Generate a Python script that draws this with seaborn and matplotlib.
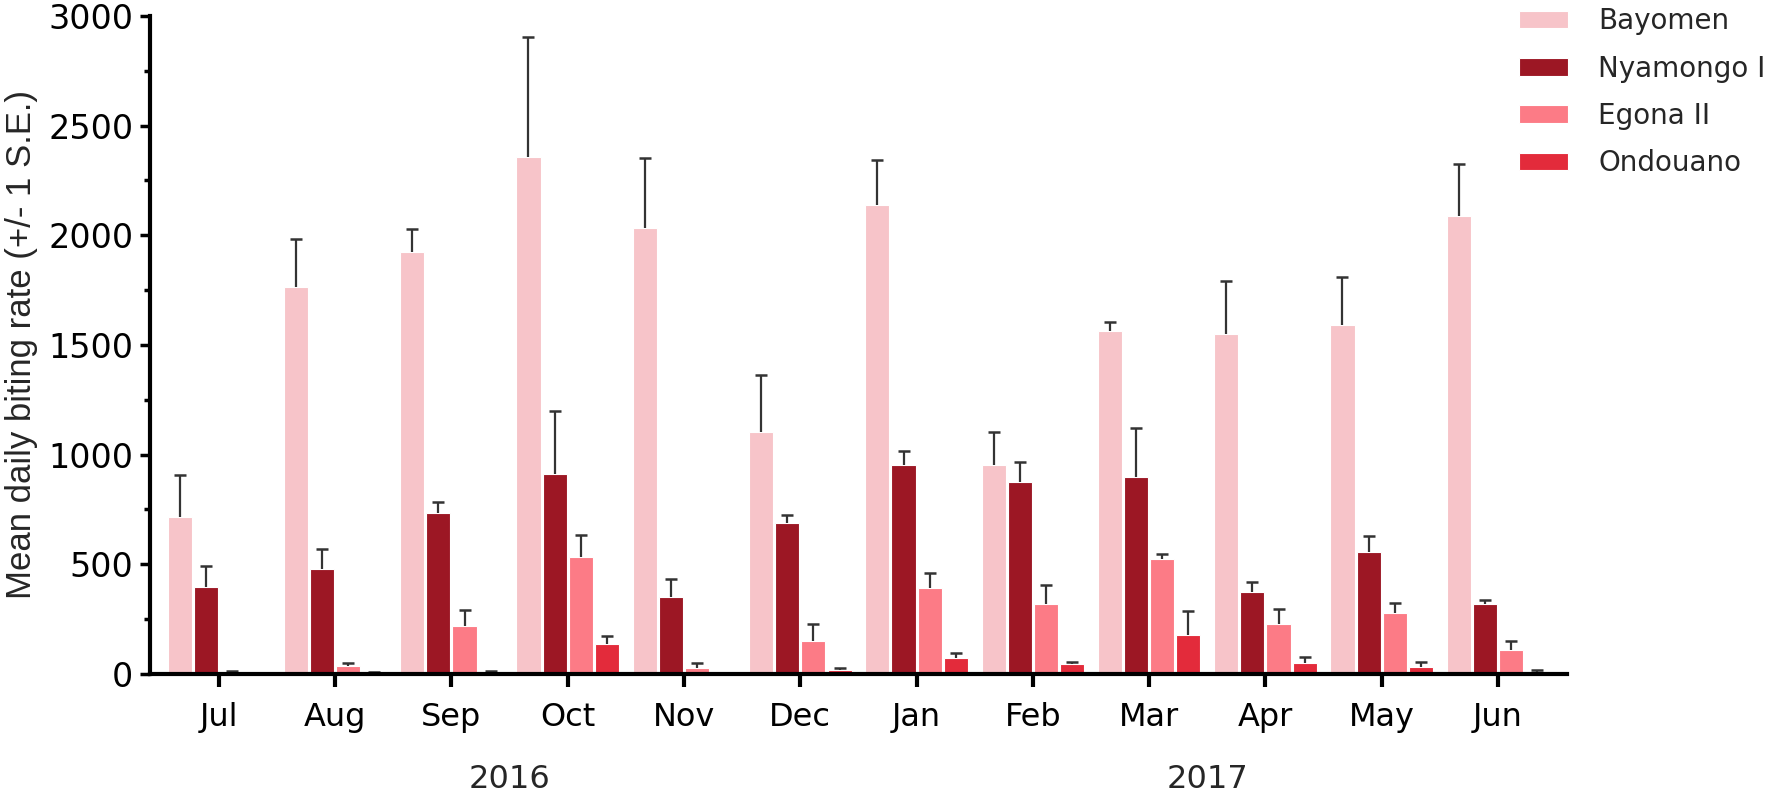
import numpy as np
import pandas as pd
import seaborn as sns
import matplotlib.pyplot as plt
from matplotlib.ticker import MultipleLocator

months = ["Jul", "Aug", "Sep", "Oct", "Nov", "Dec",
          "Jan", "Feb", "Mar", "Apr", "May", "Jun"]
sites = ["Bayomen", "Nyamongo I", "Egona II", "Ondouano"]
years = ["2016", "2017"]

# mean daily biting rate per site
bayomen = [716, 1765, 1925, 2357, 2033, 1105, 2140, 955, 1564, 1550, 1591, 2088]
nyamongo = [397, 479, 733, 912, 351, 689, 953, 875, 898, 372, 555, 320]
egona = [5, 35, 219, 535, 27, 150, 390, 317, 524, 228, 278, 109]
ondouano = [3, 3, 3, 135, 3, 18, 73, 45, 178, 50, 32, 3]

# 1 S.E. (upper error bars only)
bayomen_se = [191, 218, 104, 547, 319, 258, 205, 148, 41, 242, 219, 237]
nyamongo_se = [95, 91, 50, 287, 82, 36, 64, 91, 223, 47, 75, 17]
egona_se = [9, 15, 73, 98, 23, 78, 70, 89, 23, 70, 46, 41]
ondouano_se = [1, 6, 11, 37, 3, 9, 23, 10, 109, 28, 23, 15]

colors = ["#f7c4c9", "#9c1724", "#fc7b86", "#e32b3b"]

means = [bayomen, nyamongo, egona, ondouano]
ses = [bayomen_se, nyamongo_se, egona_se, ondouano_se]

rows = []
for site, vals in zip(sites, means):
    for m, v in zip(months, vals):
        rows.append({"month": m, "site": site, "rate": v})
df = pd.DataFrame(rows)

sns.set_theme(style="ticks")
plt.rcParams["font.family"] = ["DejaVu Sans"]

fig = plt.figure(figsize=(17.7, 7.95), dpi=100)
ax = fig.add_axes([0.0847, 0.1522, 0.8006, 0.8277])

sns.barplot(data=df, x="month", y="rate", hue="site", order=months,
            hue_order=sites, palette=colors, saturation=1, width=0.9,
            gap=0.08, errorbar=None, edgecolor="white", linewidth=0.8, ax=ax)

# upper error bars, placed on the bars seaborn drew
for cont, se in zip(ax.containers, ses):
    xs = [b.get_x() + b.get_width() / 2 for b in cont]
    hs = [b.get_height() for b in cont]
    eb = ax.errorbar(xs, hs, yerr=[[0] * len(se), se], fmt="none",
                     ecolor="#333333", elinewidth=1.6, capsize=4.5,
                     capthick=1.8, zorder=1)
    # hide the lower cap that sits on the bar top
    for cl in eb[1]:
        if np.allclose(cl.get_ydata(), hs):
            cl.set_visible(False)

ax.set_xlim(-0.593, 11.593)
ax.set_ylim(0, 3000)
ax.yaxis.set_major_locator(MultipleLocator(500))
ax.yaxis.set_minor_locator(MultipleLocator(250))
sns.despine(ax=ax)
for side in ["left", "bottom"]:
    ax.spines[side].set_linewidth(3)
    ax.spines[side].set_color("black")

ax.tick_params(axis="y", which="major", length=7, width=2.5,
               labelsize=24, pad=5, colors="black")
ax.tick_params(axis="y", which="minor", length=4, width=2.5, colors="black")
ax.tick_params(axis="x", length=9, width=3, labelsize=23, pad=11,
               colors="black")

ax.set_xlabel("")
ax.set_ylabel("Mean daily biting rate (+/- 1 S.E.)", fontsize=25,
              family="Liberation Sans")
ax.yaxis.set_label_coords(-0.079, 0.5)

# year labels under each half of the months
trans = ax.get_xaxis_transform()
ax.text(2.5, -0.16, years[0], transform=trans, ha="center", va="center",
        fontsize=23)
ax.text(8.5, -0.16, years[1], transform=trans, ha="center", va="center",
        fontsize=23)

handles, labels = ax.get_legend_handles_labels()
ax.get_legend().remove()
fig.legend(handles, labels, loc="upper left", bbox_to_anchor=(0.852, 1.005),
           frameon=False, fontsize=20, handlelength=1.75, handleheight=0.6,
           handletextpad=1.1, labelspacing=0.7, borderaxespad=0.0)

fig.savefig("out.png", dpi=100)
